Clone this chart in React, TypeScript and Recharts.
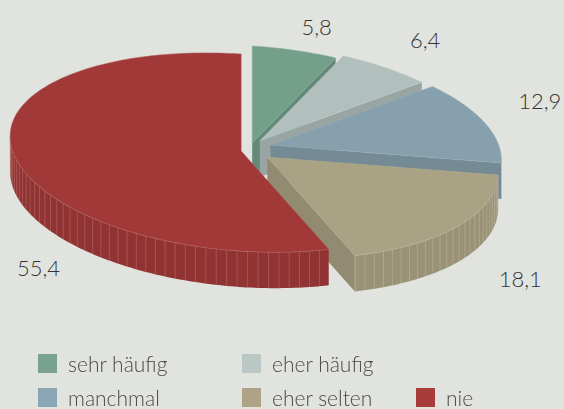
import React from 'react';
import { PieChart, Pie, Cell, Legend } from 'recharts';

// ---------- data ----------
const categories = ['sehr häufig', 'eher häufig', 'manchmal', 'eher selten', 'nie'];
const values = [5.8, 6.4, 12.9, 18.1, 55.4];

// ---------- styles ----------
const sliceColors = ['#739f8b', '#b1c0bc', '#87a0ad', '#aaa284', '#a03937'];
const legendColors = ['#78a48f', '#b9c8c4', '#8aa6b4', '#aea386', '#a83c3a'];
const BG = '#e1e3df';
const W = 564;
const H = 409;
const CX = 250;
const CY = 150;
const RX = 231;
const RY_TOP_RATIO = 97 / 231;
const RY_BOT_RATIO = 100 / 231;
const SHEAR = 0.065;
const DEPTH = 36;
const EXPLODE_Y = 0.6;
const EXPLODE = [12, 18, 22, 21, 9];
const LABEL_NUDGE: [number, number][] = [[22, -15], [40, -20], [55, -14], [63, 61], [24, 120]];
const LEG_COLS = [38, 242, 416];
const LEG_ROWS = [14, 48];
const FONT = 'Lato, "Open Sans", sans-serif';

const data = categories.map((name, i) => ({ name, value: values[i] }));

const toRad = (d: number) => (d * Math.PI) / 180;
function shade(hex: string, f: number) {
  const n = parseInt(hex.slice(1), 16);
  const r = (n >> 16) & 255, g = (n >> 8) & 255, b = n & 255;
  const m = (v: number) =>
    Math.max(0, Math.min(255, Math.round(f >= 1 ? v + (255 - v) * (f - 1) : v * f)));
  return `rgb(${m(r)},${m(g)},${m(b)})`;
}

function makeGeom(cx: number, cy: number, r: number, mid: number, i: number) {
  const ryT = r * RY_TOP_RATIO;
  const ryB = r * RY_BOT_RATIO;
  const d = EXPLODE[i] ?? 0;
  const ox = cx + d * Math.cos(toRad(mid));
  const oy = cy - d * Math.sin(toRad(mid)) * EXPLODE_Y;
  const pt = (deg: number, dz = 0): [number, number] => {
    const t = toRad(deg);
    const c = Math.cos(t), s = Math.sin(t);
    return [ox + r * c, oy - (s > 0 ? ryT : ryB) * s + SHEAR * r * c + dz];
  };
  const arc = (a: number, b: number, dz = 0) => {
    const n = Math.max(2, Math.ceil(Math.abs(b - a)));
    const pts: [number, number][] = [];
    for (let k = 0; k <= n; k++) pts.push(pt(a + ((b - a) * k) / n, dz));
    return pts;
  };
  return { ox, oy, pt, arc };
}

const poly = (pts: [number, number][]) =>
  'M' + pts.map((p) => `${p[0].toFixed(2)},${p[1].toFixed(2)}`).join('L') + 'Z';

function Slice3D(props: any) {
  const { cx, cy, outerRadius, startAngle, endAngle, fill } = props;
  const name = props.name ?? props.payload?.name;
  const i = categories.indexOf(name);
  const a1 = startAngle, a2 = endAngle;
  const mid = (a1 + a2) / 2;
  const g = makeGeom(cx, cy, outerRadius, mid, i);
  const apex: [number, number] = [g.ox, g.oy];
  const apexD: [number, number] = [g.ox, g.oy + DEPTH];
  const faceCol = shade(fill, 0.86);
  const wallCol = shade(fill, 0.9);
  const stripe = shade(fill, 1.4);

  const faces: React.ReactNode[] = [];
  if (Math.cos(toRad(a1)) < -0.001) {
    const p = g.pt(a1), q = g.pt(a1, DEPTH);
    faces.push(<path key="f1" d={poly([apex, p, q, apexD])} fill={faceCol} />);
  }
  if (Math.cos(toRad(a2)) > 0.001) {
    const p = g.pt(a2), q = g.pt(a2, DEPTH);
    faces.push(<path key="f2" d={poly([apex, p, q, apexD])} fill={faceCol} />);
  }

  const walls: React.ReactNode[] = [];
  const lo = Math.min(a1, a2), hi = Math.max(a1, a2);
  for (let k = -2; k <= 1; k++) {
    const s = Math.max(lo, -180 + 360 * k);
    const e = Math.min(hi, 360 * k);
    if (e > s) {
      const top = g.arc(s, e);
      const bot = g.arc(e, s, DEPTH);
      walls.push(<path key={'w' + k} d={poly([...top, ...bot])} fill={wallCol} />);
      for (let t = Math.ceil(s / 2.6) * 2.6; t < e; t += 2.6) {
        const p = g.pt(t), q = g.pt(t, DEPTH);
        walls.push(
          <line key={'s' + k + '_' + t} x1={p[0]} y1={p[1]} x2={q[0]} y2={q[1]}
            stroke={stripe} strokeWidth={0.6} strokeOpacity={0.65} />
        );
      }
      walls.push(
        <polyline key={'h' + k} points={top.map((p) => p.join(',')).join(' ')}
          fill="none" stroke={shade(fill, 1.4)} strokeWidth={0.7} strokeOpacity={0.7} />
      );
    }
  }

  const topPath = poly([apex, ...g.arc(a1, a2)]);
  return (
    <g>
      {faces}
      {walls}
      <path d={topPath} fill={fill} stroke={shade(fill, 1.15)} strokeWidth={0.5} />
    </g>
  );
}

function renderLabel(props: any) {
  const { cx, cy, outerRadius, midAngle, value } = props;
  const name = props.name ?? props.payload?.name;
  const i = categories.indexOf(name);
  const g = makeGeom(cx, cy, outerRadius, midAngle, i);
  const [x, y] = g.pt(midAngle);
  const nudge = LABEL_NUDGE[i] ?? [0, 0];
  return (
    <text x={x + nudge[0]} y={y + nudge[1]} textAnchor="middle" fontFamily={FONT}
      fontSize={22} fontWeight={300} fill="#333333">
      {Number(value).toFixed(1).replace('.', ',')}
    </text>
  );
}

function renderLegend(props: any) {
  const payload = props.payload ?? [];
  return (
    <div style={{ position: 'relative', width: W, height: 70, fontFamily: FONT, fontSize: 21, color: '#4a4a4a' }}>
      {payload.map((p: any) => {
        const name = p.value;
        const i = categories.indexOf(name);
        const row = i < 2 ? 0 : 1;
        const col = i < 2 ? i : i - 2;
        return (
          <div key={name} style={{ position: 'absolute', left: LEG_COLS[col], top: LEG_ROWS[row], display: 'flex', alignItems: 'center', height: 19, whiteSpace: 'nowrap' }}>
            <span style={{ width: 19, height: 19, background: legendColors[i], display: 'inline-block' }} />
            <span style={{ marginLeft: 11, lineHeight: '19px', fontWeight: 300 }}>{name}</span>
          </div>
        );
      })}
    </div>
  );
}

export default function App() {
  return (
    <div style={{ position: 'fixed', left: 0, top: 0, width: W, height: H, background: BG }}>
      <PieChart width={W} height={H} margin={{ top: 0, right: 0, bottom: 0, left: 0 }}>
        <Pie
          data={data}
          dataKey="value"
          nameKey="name"
          cx={CX}
          cy={CY}
          outerRadius={RX}
          startAngle={90}
          endAngle={-270}
          stroke="none"
          isAnimationActive={false}
          shape={Slice3D}
          label={renderLabel}
          labelLine={false}
        >
          {data.map((d, i) => (
            <Cell key={d.name} fill={sliceColors[i]} />
          ))}
        </Pie>
        <Legend content={renderLegend} wrapperStyle={{ left: 0, top: 340, width: W, height: 70 }} />
      </PieChart>
    </div>
  );
}
